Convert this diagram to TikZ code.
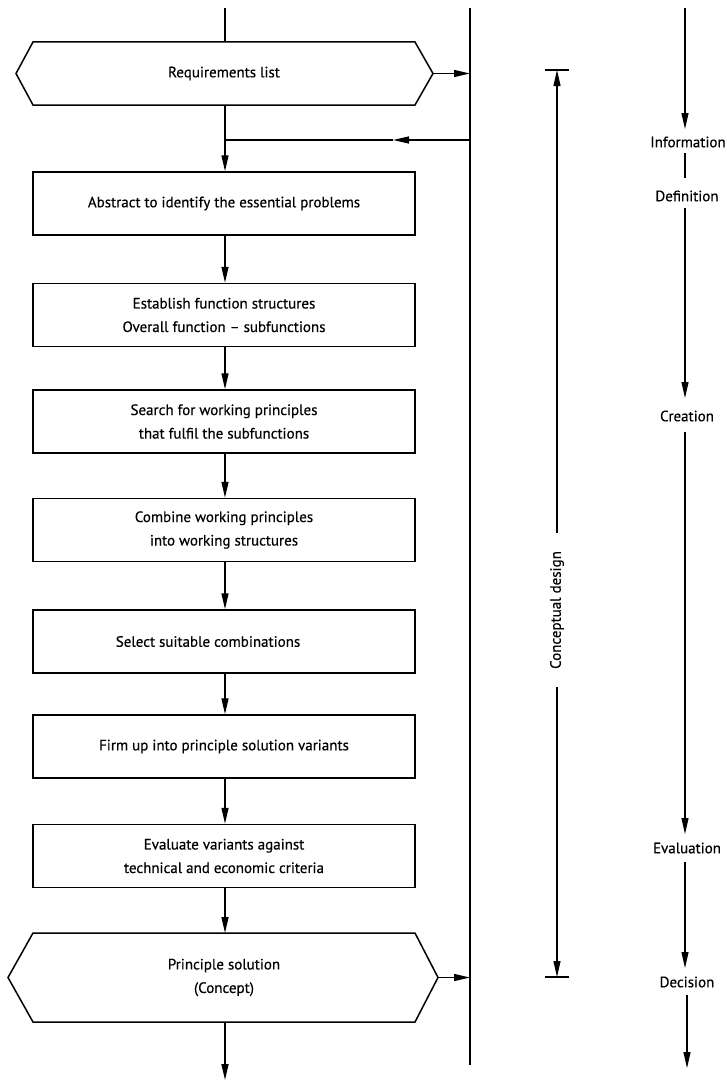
\documentclass[tikz,border=0pt]{standalone}
\usepackage{fontspec}
\setmainfont[FakeBold=0.4]{PT Sans}
\usetikzlibrary{arrows.meta,calc}
\begin{document}
\begin{tikzpicture}[x=1pt,y=-1pt,
  tri/.style={-{Triangle[length=16pt,width=7pt]}},
  flow/.style={line width=1.4pt},
  box/.style={draw,line width=1.5pt,minimum width=382pt,minimum height=63pt,inner sep=0pt,align=center,font=\fontsize{15}{23.5}\selectfont},
  txt/.style={inner sep=0pt,align=center,font=\fontsize{15}{23.5}\selectfont},
  side/.style={line width=1.1pt},
  lbl/.style={inner sep=0pt,font=\fontsize{15}{18}\selectfont}]
\useasboundingbox (0,0) rectangle (726,1081);
\fill[white] (0,0) rectangle (726,1081);

% main vertical line
\coordinate (vtop) at (470,8);
\coordinate (vbot) at (470,1065);
\draw[line width=1.8pt] (vtop) -- (vbot);

% Requirements hexagon
\node[txt] (req) at (224,73.5) {Requirements list};
\coordinate (reqL) at (16,73.5);
\coordinate (reqR) at (433,73.5);
\draw[line width=1.5pt] (33,42) -- (415,42) -- (reqR) -- (415,105) -- (33,105) -- (reqL) -- cycle;
\coordinate (reqT) at (225,42);
\coordinate (reqB) at (225,105);
\coordinate (top) at (225,8);
\draw[flow] (top) -- (reqT);
\coordinate (reqV) at (470,73.5);
\draw[flow,tri] (reqR) -- (reqV);

% feedback
\coordinate (fb) at (470,140);
\coordinate (fbm) at (393,140);
\coordinate (j) at (225,140);
\draw[flow] (reqB) -- (j);
\draw[flow,tri] (fb) -- (fbm);
\draw[flow] (fbm) -- (j);

% boxes
\node[box] (b1) at (224,203.5) {Abstract to identify the essential problems};
\node[box] (b2) at (224,315) {Establish function structures\\Overall function -- subfunctions};
\node[box] (b3) at (224,421.5) {Search for working principles\\that fulfil the subfunctions};
\node[box] (b4) at (224,530) {Combine working principles\\into working structures};
\node[box] (b5) at (224,641.5) {};
\node[txt] (b5t) at (208,641.5) {Select suitable combinations};
\node[box] (b6) at (224,746.5) {Firm up into principle solution variants};
\node[box] (b7) at (224,856) {Evaluate variants against\\technical and economic criteria};

\draw[flow,tri] (j) -- (b1.north -| j);
\draw[flow,tri] (b1.south -| j) -- (b2.north -| j);
\draw[flow,tri] (b2.south -| j) -- (b3.north -| j);
\draw[flow,tri] (b3.south -| j) -- (b4.north -| j);
\draw[flow,tri] (b4.south -| j) -- (b5.north -| j);
\draw[flow,tri] (b5.south -| j) -- (b6.north -| j);
\draw[flow,tri] (b6.south -| j) -- (b7.north -| j);

% Concept hexagon
\node[txt] (con) at (224,977.5) {Principle solution\\(Concept)};
\coordinate (conL) at (8,977.5);
\coordinate (conR) at (438,977.5);
\draw[line width=1.5pt] (33,933) -- (415,933) -- (conR) -- (415,1022) -- (33,1022) -- (conL) -- cycle;
\coordinate (conT) at (225,933);
\coordinate (conB) at (225,1022);
\coordinate (out) at (225,1080);
\draw[flow,tri] (b7.south -| j) -- (conT);
\draw[flow,tri] (conB) -- (out);
\coordinate (conV) at (470,977.5);
\draw[flow,tri] (conR) -- (conV);

% Conceptual design dimension
\coordinate (cdT) at (557,70);
\coordinate (cdB) at (557,977);
\node[lbl,rotate=90] (cd) at (557,610) {Conceptual design};
\draw[side] (545,70) -- (569,70);
\draw[side] (545,977) -- (569,977);
\draw[side,tri] (557,533) -- (cdT);
\draw[side,tri] (557,687) -- (cdB);

% right column
\node[lbl] (inf) at (688,142) {Information};
\node[lbl] (def) at (687,196) {Definition};
\node[lbl] (cre) at (687,416) {Creation};
\node[lbl] (eva) at (687,848) {Evaluation};
\node[lbl] (dec) at (687,982) {Decision};
\coordinate (r0) at (685,8);
\coordinate (rend) at (687,1068);
\draw[side,tri] (r0) -- (685,129);
\draw[side] (685,153) -- (685,178);
\draw[side,tri] (685,208) -- (685,398);
\draw[side,tri] (685,432) -- (685,834);
\draw[side,tri] (685,862) -- (685,968);
\draw[side,tri] (687,995) -- (rend);
\end{tikzpicture}
\end{document}
